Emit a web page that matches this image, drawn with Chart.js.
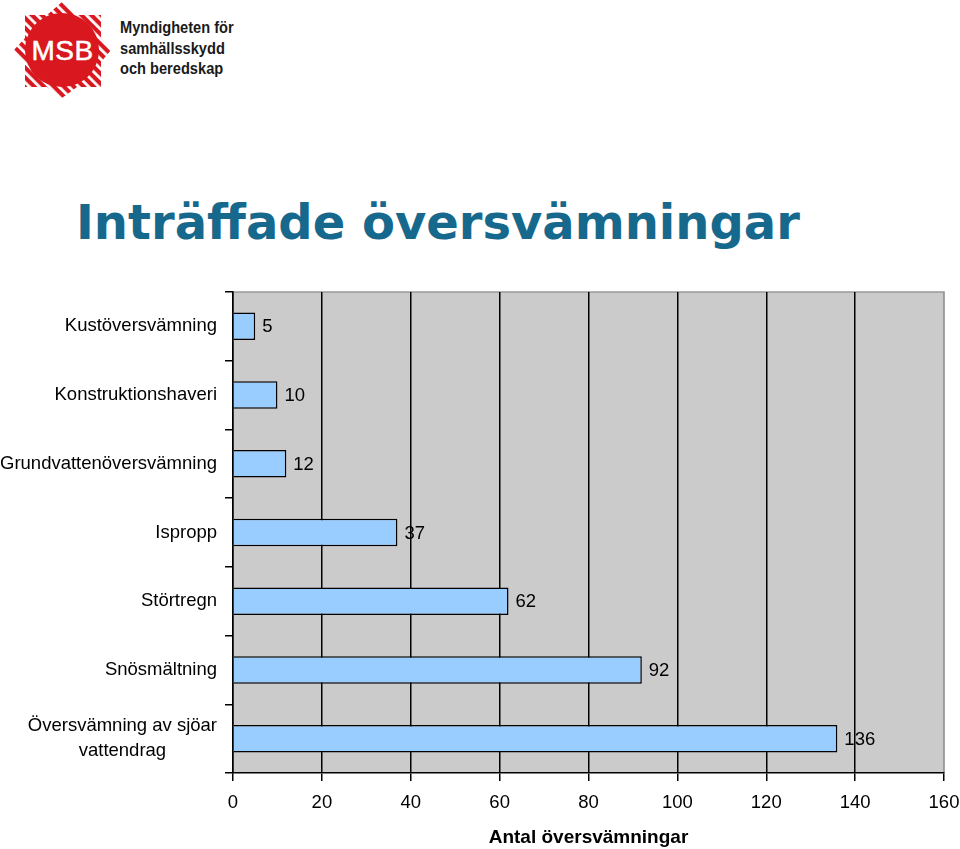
<!DOCTYPE html>
<html>
<head>
<meta charset="utf-8">
<script src="https://cdn.jsdelivr.net/npm/chart.js@4/dist/chart.umd.min.js"></script>
<style>
  html,body{margin:0;padding:0;background:#fff;}
  body{width:960px;height:849px;position:relative;overflow:hidden;}
  #wrap{position:absolute;left:0;top:0;width:990px;height:849px;}
  #title{position:absolute;left:76px;top:194px;font-family:"DejaVu Sans",Verdana,sans-serif;font-weight:bold;font-size:48px;color:#16698C;white-space:nowrap;}
  #logo{position:absolute;left:0px;top:0px;}
  #logotext{position:absolute;left:120px;top:18px;font-family:"Liberation Sans",Arial,sans-serif;font-weight:bold;font-size:17px;line-height:20.5px;color:#1a1a1a;transform:scaleX(0.86);transform-origin:0 0;white-space:nowrap;}
</style>
</head>
<body>
<svg id="logo" width="115" height="100" viewBox="0 0 115 100">
  <defs>
    <clipPath id="star">
      <polygon points="62,2 77,15 101,15 101,38 111,50 101,62 101,87 77,87 62,98 47,87 25,87 25,62 14,50 25,38 25,15 47,15"/>
    </clipPath>
    <pattern id="stripes" patternUnits="userSpaceOnUse" width="7" height="7" patternTransform="rotate(-45)">
      <rect width="7" height="7" fill="#D9171E"/>
      <rect width="2.8" height="7" fill="#fff"/>
    </pattern>
  </defs>
  <g clip-path="url(#star)">
    <rect x="0" y="0" width="115" height="100" fill="url(#stripes)"/>
    <circle cx="62" cy="50" r="37" fill="#D9171E"/>
  </g>
  <text x="62.5" y="60" text-anchor="middle" font-family="Liberation Sans, Arial, sans-serif" font-size="28" letter-spacing="0.5" fill="#fff" stroke="#fff" stroke-width="0.5">MSB</text>
</svg>
<div id="logotext">Myndigheten för<br>samhällsskydd<br>och beredskap</div>
<div id="title">Inträffade översvämningar</div>
<div id="wrap"><canvas id="c" width="990" height="849"></canvas></div>
<script>
const categories = ["Kustöversvämning","Konstruktionshaveri","Grundvattenöversvämning","Ispropp","Störtregn","Snösmältning",["Översvämning av sjöar","vattendrag"]];
const counts = [5, 10, 12, 37, 62, 92, 136];
const xTicks = [0, 20, 40, 60, 80, 100, 120, 140, 160];
const xTitle = "Antal översvämningar";

const FONT = '"Liberation Sans", Arial, sans-serif';

const bgPlugin = {
  id: 'bgPlugin',
  beforeDraw(chart) {
    const {ctx, chartArea: a} = chart;
    ctx.save();
    ctx.fillStyle = '#CBCBCB';
    ctx.fillRect(a.left, a.top, a.right - a.left, a.bottom - a.top);
    ctx.strokeStyle = '#9A9A9A';
    ctx.lineWidth = 1.5;
    ctx.beginPath();
    ctx.moveTo(a.left, a.top);
    ctx.lineTo(a.right, a.top);
    ctx.lineTo(a.right, a.bottom);
    ctx.stroke();
    ctx.restore();
  }
};

const labelPlugin = {
  id: 'labelPlugin',
  afterDatasetsDraw(chart) {
    const {ctx} = chart;
    const meta = chart.getDatasetMeta(0);
    ctx.save();
    ctx.font = '18.5px ' + FONT;
    ctx.fillStyle = '#000';
    ctx.textBaseline = 'middle';
    ctx.textAlign = 'left';
    meta.data.forEach((bar, i) => {
      ctx.fillText(String(counts[i]), bar.x + 7, bar.y + 1);
    });
    // multi-line category labels: block right-aligned, lines centred
    const y = chart.scales.y;
    categories.forEach((lab, i) => {
      if (!Array.isArray(lab)) return;
      const widths = lab.map(s => ctx.measureText(s).width);
      const maxW = Math.max(...widths);
      const cx = y.right - 16 - maxW / 2;
      const cy = y.getPixelForTick(i);
      const lh = 25;
      ctx.textAlign = 'center';
      lab.forEach((s, k) => {
        ctx.fillText(s, cx, cy + (k - (lab.length - 1) / 2) * lh);
      });
    });
    ctx.restore();
  }
};

new Chart(document.getElementById('c'), {
  type: 'bar',
  data: {
    labels: categories,
    datasets: [{
      data: counts,
      backgroundColor: '#99CCFF',
      borderColor: '#000',
      borderWidth: 1.5,
      categoryPercentage: 1,
      barPercentage: 0.4
    }]
  },
  options: {
    indexAxis: 'y',
    responsive: false,
    animation: false,
    devicePixelRatio: 1,
    layout: {padding: {left: 0, top: 292, right: 46, bottom: 0}},
    plugins: {legend: {display: false}, tooltip: {enabled: false}},
    scales: {
      x: {
        min: 0, max: 160,
        afterBuildTicks(scale) { scale.ticks = xTicks.map(v => ({value: v})); },
        afterFit(scale) { scale.height = 76; },
        ticks: {
          font: {size: 18.5, family: FONT},
          color: '#000',
          padding: 11,
          maxRotation: 0
        },
        grid: {
          color: ctx => (ctx.tick && ctx.tick.value === 160) ? '#9A9A9A' : '#000',
          lineWidth: 1.5,
          tickLength: 8,
          tickColor: '#000'
        },
        border: {color: '#000', width: 1.5},
        title: {
          display: true,
          text: xTitle,
          font: {size: 19, weight: 'bold', family: FONT},
          color: '#000',
          padding: {top: 2, bottom: 0}
        }
      },
      y: {
        afterFit(scale) { scale.width = 233; },
        ticks: {
          font: {size: 18.5, family: FONT},
          color: ctx => Array.isArray(categories[ctx.index]) ? 'rgba(0,0,0,0)' : '#000',
          padding: 8
        },
        grid: {
          drawOnChartArea: false,
          offset: true,
          tickLength: 8,
          color: '#000',
          lineWidth: 1.5
        },
        border: {color: '#000', width: 1.5}
      }
    }
  },
  plugins: [bgPlugin, labelPlugin]
});
</script>
</body>
</html>
